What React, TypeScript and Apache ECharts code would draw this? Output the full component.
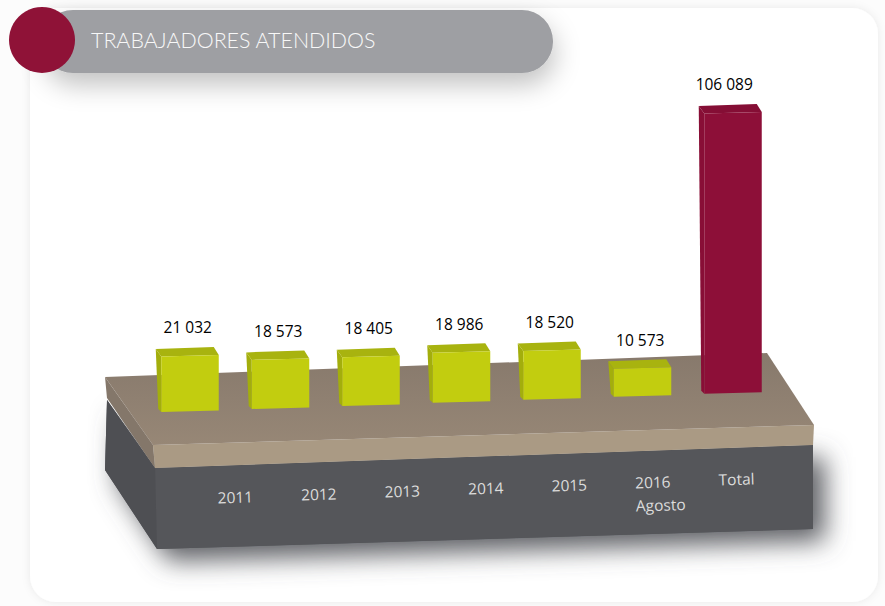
import React, { useEffect, useRef } from "react";
import * as echarts from "echarts";

const categories = ["2011", "2012", "2013", "2014", "2015", "2016\nAgosto", "Total"];
const values = [21032, 18573, 18405, 18986, 18520, 10573, 106089];
const titleText = "TRABAJADORES ATENDIDOS";

const FONT = "'Open Sans', 'Noto Sans', sans-serif";
const RISE = 3.05; // perspective rise of the platform per category
const LABEL_RISE = 3;

const fmt = (v: number) => {
  const s = String(v);
  return s.length > 3 ? s.slice(0, -3) + " " + s.slice(-3) : s;
};

function renderBar(params: any, api: any) {
  const i = api.value(0);
  const v = api.value(1);
  const total = i === values.length - 1;
  const base = api.coord([i, 0]);
  const top = api.coord([i, v]);
  const c = base[0];
  const by = base[1] - RISE * i;
  const ty = top[1] - RISE * i;
  const fl = c - 26;
  const fr = c + 31.5;
  const bl = c - 31.5;
  const br = c + 26.5;
  const dy = 8;
  const tilt = 1.5;
  const cFront = total ? "#8d0f38" : "#c2cd0f";
  const cTop = total ? "#850e35" : "#a8b30f";
  const cSide = total ? "#880e36" : "#a3ae0c";
  return {
    type: "group",
    children: [
      {
        type: "polygon",
        shape: { points: [[bl, ty - dy + 0.5], [fl, ty], [fl, by], [bl + 2.5, by - 3]] },
        style: { fill: cSide },
      },
      {
        type: "polygon",
        shape: { points: [[bl, ty - dy + 0.5], [br, ty - dy - tilt], [fr, ty - tilt], [fl, ty]] },
        style: { fill: cTop },
      },
      {
        type: "polygon",
        shape: { points: [[fl, ty], [fr, ty - tilt], [fr, by - tilt], [fl, by]] },
        style: { fill: cFront },
      },
      {
        type: "text",
        style: {
          text: fmt(v),
          x: c + (total ? -6 : 0.5),
          y: ty - dy - 21,
          align: "center",
          verticalAlign: "middle",
          fontFamily: FONT,
          fontSize: 15.5,
          fontWeight: 400,
          letterSpacing: -0.2,
          fill: "#000000",
        },
      },
    ],
  };
}

function renderLabel(params: any, api: any) {
  const i = api.value(0);
  const p = api.coord([i, 0]);
  const y = p[1] - LABEL_RISE * i;
  return {
    type: "text",
    x: p[0] - 19,
    y,
    rotation: (1.8 * Math.PI) / 180,
    style: {
      text: categories[i],
      x: 0,
      y: 0,
      align: "left",
      verticalAlign: "top",
      lineHeight: 23,
      fontFamily: FONT,
      fontSize: 15.5,
      fill: "#dcdcdc",
    },
  };
}

export default function App() {
  const ref = useRef<HTMLDivElement>(null);
  useEffect(() => {
    const chart = echarts.init(ref.current!, null, { renderer: "svg" });
    chart.setOption({
      animation: false,
      backgroundColor: "#fcfcfc",
      title: {
        text: titleText,
        left: 86,
        top: 24,
        textStyle: { color: "#f8f8f8", fontFamily: "Lato, 'Open Sans', sans-serif", fontWeight: 300, fontSize: 21.4 },
      },
      grid: [
        { left: 142, width: 633.5, top: 95, bottom: 194 },
        { left: 194.5, width: 584.5, top: 95, bottom: 120 },
      ],
      xAxis: [
        { type: "category", data: categories, gridIndex: 0, show: false },
        { type: "category", data: categories, gridIndex: 1, show: false },
      ],
      yAxis: [
        { type: "value", min: 0, max: 120000, gridIndex: 0, show: false },
        { type: "value", min: 0, max: 120000, gridIndex: 1, show: false },
      ],
      graphic: [
        // card
        {
          type: "rect", z: 0, shape: { x: 30, y: 8, width: 848, height: 594, r: 26 },
          style: { fill: "#ffffff", shadowBlur: 8, shadowColor: "rgba(0,0,0,0.08)" },
        },
        // title pill
        {
          type: "rect", z: 1, shape: { x: 42, y: 10, width: 511, height: 63, r: 31 },
          style: { fill: "#9e9fa3", shadowBlur: 26, shadowColor: "rgba(0,0,0,0.24)", shadowOffsetY: 12, shadowOffsetX: 2 },
        },
        { type: "circle", z: 2, shape: { cx: 42, cy: 40, r: 33 }, style: { fill: "#8f1237" } },
        // dark block
        {
          type: "polygon", z: 3,
          shape: { points: [[107, 400], [105, 470], [157, 549], [813, 529], [813, 445], [155, 468]] },
          style: { fill: "#55565a", shadowBlur: 26, shadowColor: "rgba(85,86,92,0.95)", shadowOffsetX: 12, shadowOffsetY: 12 },
        },
        { type: "polygon", z: 4, shape: { points: [[155, 468], [813, 445], [813, 529], [157, 549]] }, style: { fill: "#55565a" } },
        { type: "polygon", z: 4, shape: { points: [[107, 400], [155, 468], [157, 549], [105, 470]] }, style: { fill: "#4e4f53" } },
        // platform
        { type: "polygon", z: 5, shape: { points: [[105, 377], [107, 398], [155, 468], [153, 445]] }, style: { fill: "#84776a" } },
        { type: "polygon", z: 5, shape: { points: [[153, 445], [814, 425], [813, 445], [155, 468]] }, style: { fill: "#aa9a84" } },
        {
          type: "polygon", z: 5,
          shape: { points: [[105, 377], [767, 353], [814, 425], [153, 445]] },
          style: {
            fill: new echarts.graphic.LinearGradient(0, 0, 0, 1, [
              { offset: 0, color: "#87796c" },
              { offset: 1, color: "#978776" },
            ]),
          },
        },
      ],
      series: [
        {
          type: "custom",
          xAxisIndex: 0,
          yAxisIndex: 0,
          z: 10,
          renderItem: renderBar,
          encode: { x: 0, y: 1 },
          data: values.map((v, i) => [i, v]),
        },
        {
          type: "custom",
          xAxisIndex: 1,
          yAxisIndex: 1,
          z: 10,
          renderItem: renderLabel,
          encode: { x: 0, y: 1 },
          data: values.map((v, i) => [i, 0]),
        },
      ],
    });
    return () => chart.dispose();
  }, []);
  return <div ref={ref} style={{ position: "absolute", left: 0, top: 0, width: 885, height: 606 }} />;
}
